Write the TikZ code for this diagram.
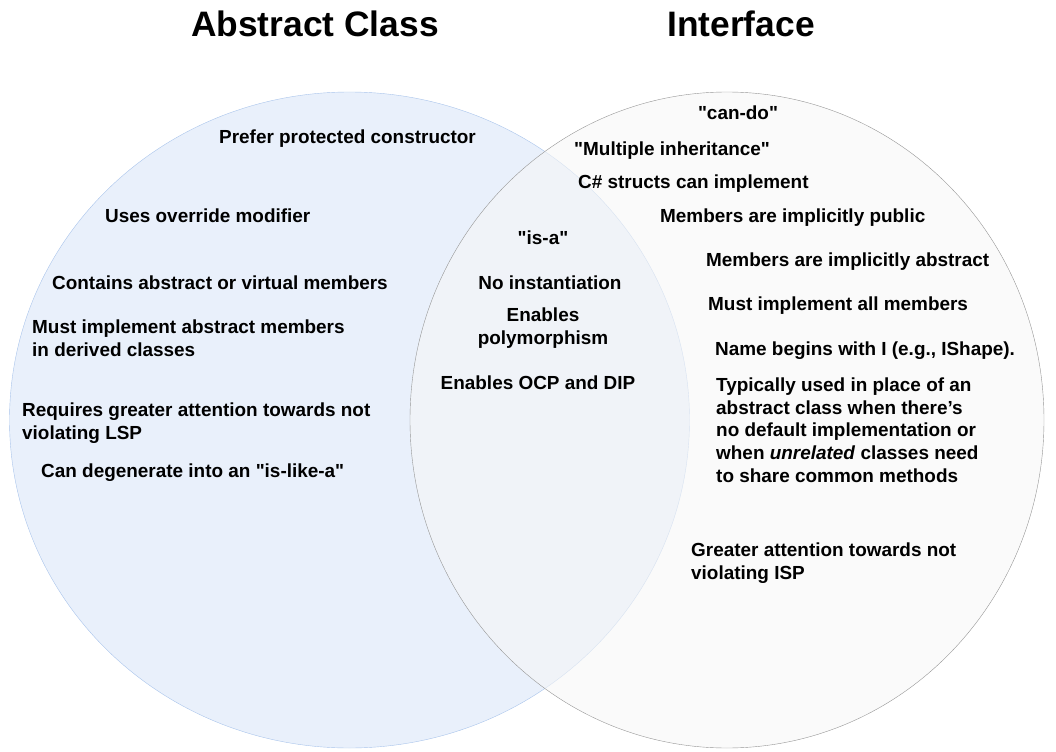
\documentclass[tikz,border=0pt]{standalone}
\usepackage{fontspec}
\setmainfont{Liberation Sans}
\usepackage{xcolor}
\definecolor{absFill}{RGB}{233,240,251}
\definecolor{absLine}{RGB}{169,196,235}
\definecolor{ifcFill}{RGB}{246,246,246}
\definecolor{ifcLine}{RGB}{150,150,150}
\newcommand{\dq}{\textquotedbl}
\tikzset{
  heading/.style={font=\fontsize{35.5}{40}\selectfont\bfseries,anchor=base,inner sep=0pt},
  fact/.style={font=\fontsize{19}{22.6}\selectfont\bfseries,align=left,anchor=base west,inner sep=0pt},
  shared/.style={font=\fontsize{19}{22.6}\selectfont\bfseries,align=center,anchor=base,inner sep=0pt},
}

\begin{document}
\begin{tikzpicture}[x=1bp,y=-1bp]
\useasboundingbox (0,0) rectangle (1056,752);
% the two sets
\draw[absLine,fill=absFill] (349.5,420) ellipse [x radius=340,y radius=328];
\draw[ifcLine,fill=ifcFill,fill opacity=0.6] (727,420) ellipse [x radius=317,y radius=328];
% headings
\node[heading] (hAbs) at (315,37) {Abstract Class};
\node[heading] (hIfc) at (741,37) {Interface};
% abstract class only (multi-line texts sit on their last baseline)
\node[fact] (a1) at (219,143) {Prefer protected constructor};
\node[fact] (a2) at (105,222) {Uses override modifier};
\node[fact] (a3) at (52,289) {Contains abstract or virtual members};
\node[fact] (a4) at (32,356) {Must implement abstract members\\in derived classes};
\node[fact] (a5) at (22,439) {Requires greater attention towards not\\violating LSP};
\node[fact] (a6) at (41,477) {Can degenerate into an \dq is-like-a\dq};
% both
\node[shared] (b1) at (543,244) {\dq is-a\dq};
\node[shared] (b2) at (550,289) {No instantiation};
\node[shared] (b3) at (543,344) {Enables\\polymorphism};
\node[shared] (b4) at (538,389) {Enables OCP and DIP};
% interface only
\node[shared] (i1) at (738,119) {\dq can-do\dq};
\node[fact] (i2) at (574,155) {\dq Multiple inheritance\dq};
\node[fact] (i3) at (578,188) {C\# structs can implement};
\node[fact] (i4) at (660,222) {Members are implicitly public};
\node[fact] (i5) at (706,266) {Members are implicitly abstract};
\node[fact] (i6) at (708,310) {Must implement all members};
\node[fact] (i7) at (715,355) {Name begins with I (e.g., IShape).};
\node[fact] (i8) at (716,482) {Typically used in place of an\\abstract class when there’s\\no default implementation or\\when \textit{unrelated} classes need\\to share common methods};
\node[fact] (i9) at (691,579) {Greater attention towards not\\violating ISP};
\end{tikzpicture}
\end{document}
